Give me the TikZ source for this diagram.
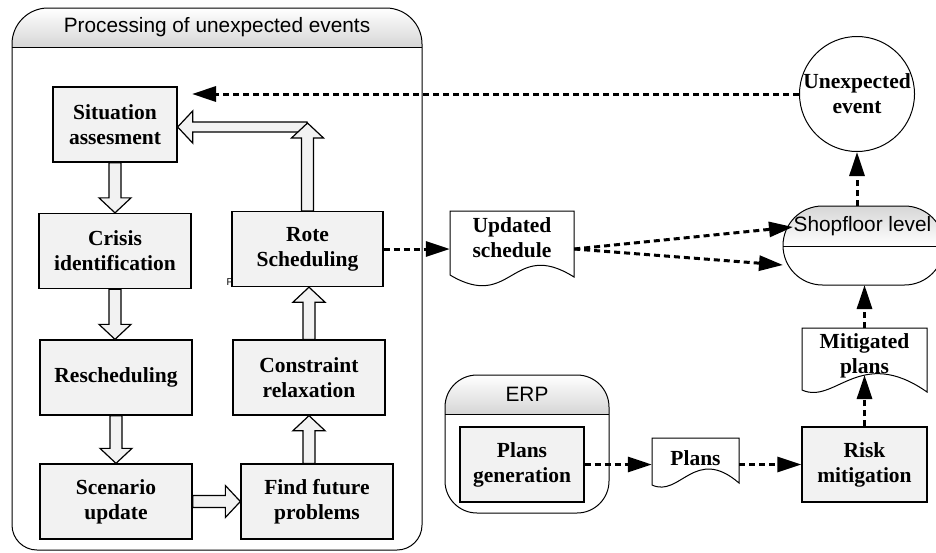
\documentclass[tikz,border=0pt]{standalone}
\usepackage{fontspec}
\setmainfont{Liberation Serif}
\setsansfont{Liberation Sans}
\usetikzlibrary{arrows.meta,calc}
\definecolor{boxgray}{HTML}{F2F2F2}
\definecolor{hdrgray}{HTML}{D6D6D6}
\newcommand{\blkdown}[2]{\draw[blk] ($(#1)+(-6,0)$) -- ($(#1|-#2)+(-6,-15)$) -- ($(#1|-#2)+(-16,-15)$) -- (#1|-#2) -- ($(#1|-#2)+(16,-15)$) -- ($(#1|-#2)+(6,-15)$) -- ($(#1)+(6,0)$) -- cycle;}
\newcommand{\blkup}[2]{\draw[blk] ($(#1)+(-6,0)$) -- ($(#1|-#2)+(-6,15)$) -- ($(#1|-#2)+(-16,15)$) -- (#1|-#2) -- ($(#1|-#2)+(16,15)$) -- ($(#1|-#2)+(6,15)$) -- ($(#1)+(6,0)$) -- cycle;}
\newcommand{\blkright}[2]{\draw[blk] ($(#1)+(0,-6)$) -- ($(#1-|#2)+(-15,-6)$) -- ($(#1-|#2)+(-15,-16)$) -- (#1-|#2) -- ($(#1-|#2)+(-15,16)$) -- ($(#1-|#2)+(-15,6)$) -- ($(#1)+(0,6)$) -- cycle;}
\newcommand{\blkleft}[2]{\draw[blk] ($(#1)+(0,-5)$) -- ($(#1-|#2)+(15,-5)$) -- ($(#1-|#2)+(15,-16)$) -- (#1-|#2) -- ($(#1-|#2)+(15,16)$) -- ($(#1-|#2)+(15,5)$) -- ($(#1)+(0,5)$) -- cycle;}
\begin{document}
\begin{tikzpicture}[x=1pt,y=-1pt,
  proc/.style={draw, line width=1.3pt, fill=boxgray, inner sep=0pt, align=center,
    font=\bfseries\fontsize{21.5}{25}\selectfont, minimum width=152pt, minimum height=75pt},
  lbl/.style={font=\bfseries\fontsize{21.5}{25}\selectfont, align=center, inner sep=0pt},
  sanslbl/.style={font=\sffamily\fontsize{20.8}{25}\selectfont, inner sep=0pt},
  thin/.style={line width=1pt},
  darr/.style={line width=3pt, dash pattern=on 6pt off 4pt, -{Triangle[length=24pt,width=15pt]}},
  blk/.style={draw, line width=1.2pt, fill=boxgray, line join=miter}]
\useasboundingbox (0,0) rectangle (936,552);
\clip (0,0) rectangle (936,552);

% big container
\shade[top color=white, bottom color=hdrgray] (12,47) -- (12,44) arc[start angle=180,end angle=270,radius=36] -- (386,8) arc[start angle=270,end angle=360,radius=36] -- (422,47) -- cycle;
\draw[thin] (12,47) -- (422,47);
\draw[thin] (12,44) arc[start angle=180,end angle=270,radius=36] -- (386,8) arc[start angle=270,end angle=360,radius=36] -- (422,525) arc[start angle=0,end angle=90,radius=25] -- (37,550) arc[start angle=90,end angle=180,radius=25] -- cycle;
\node[sanslbl] (ttl) at (217,27) {Processing of unexpected events};

% ERP container
\shade[top color=white, bottom color=hdrgray] (445,414) -- (445,407) arc[start angle=180,end angle=270,radius=32] -- (577,375) arc[start angle=270,end angle=360,radius=32] -- (609,414) -- cycle;
\draw[thin] (445,414) -- (609,414);
\draw[thin] (445,407) arc[start angle=180,end angle=270,radius=32] -- (577,375) arc[start angle=270,end angle=360,radius=32] -- (609,481) arc[start angle=0,end angle=90,radius=32] -- (477,513) arc[start angle=90,end angle=180,radius=32] -- cycle;
\node[sanslbl] (erp) at (527,394) {ERP};

% Shopfloor level
\shade[top color=hdrgray, bottom color=white] (783,246) -- (783,245.5) arc[start angle=180,end angle=270,radius=39.5] -- (904.5,206) arc[start angle=270,end angle=360,radius=39.5] -- (944,246) -- cycle;
\draw[thin] (783,246) -- (944,246);
\draw[thin] (783,245.5) arc[start angle=180,end angle=270,radius=39.5] -- (904.5,206) arc[start angle=270,end angle=360,radius=39.5] arc[start angle=0,end angle=90,radius=39.5] -- (822.5,285) arc[start angle=90,end angle=180,radius=39.5] -- cycle;
\node[sanslbl] (shop) at (862.5,226) {Shopfloor level};
\coordinate (shoptop) at (857,206);
\coordinate (shopbot) at (864.5,285);
\coordinate (sf1) at (793,227);
\coordinate (sf2) at (783,265);

% process boxes
\node[proc, minimum width=124pt] (sit) at (115,124.5) {Situation\\assesment};
\node[proc] (cri) at (115,251) {Crisis\\identification};
\node[proc] (res) at (116,377.5) {Rescheduling};
\node[proc] (scn) at (116,501.5) {Scenario\\update};
\node[proc] (fut) at (317,501.5) {Find future\\problems};
\node[proc] (con) at (309,377.5) {Constraint\\relaxation};
\node[proc, minimum width=151pt] (rot) at (307.5,249) {Rote\\Scheduling};
\node[proc, minimum width=124pt] (pgen) at (522,464.5) {Plans\\generation};
\node[proc, minimum width=125pt] (risk) at (864.5,464.5) {Risk\\mitigation};
\node[font=\sffamily\fontsize{10}{10}\selectfont, inner sep=0pt] (pmark) at (230,282) {P};

% unexpected event
\node[draw, circle, line width=1pt, minimum size=115pt, inner sep=0pt, lbl] (ue) at (857,94) {Unexpected\\event};

% documents
\draw[thin, fill=white] (450,211) -- (574,211) -- (574,277) .. controls (512,238) and (512,312) .. (450,275) -- cycle;
\node[lbl, minimum width=124pt, minimum height=40pt] (upd) at (512,238) {Updated\\schedule};
\draw[thin, fill=white] (652,438) -- (739,438) -- (739,483) .. controls (695,445) and (680,498) .. (652,485) -- cycle;
\node[lbl, minimum width=87pt, minimum height=30pt] (plans) at (695.5,458) {Plans};
\draw[thin, fill=white] (802,328) -- (927,328) -- (927,392) .. controls (860,345) and (835,405) .. (802,390) -- cycle;
\node[lbl, minimum width=125pt, minimum height=50pt] (mit) at (864.5,356) {Mitigated\\plans};
\coordinate (mittop) at (864.5,328);
\coordinate (mitin) at (864.5,375);

% block arrows
\blkdown{sit.south}{cri.north}
\blkdown{cri.south}{res.north}
\blkdown{res.south}{scn.north}
\blkright{scn.east}{fut.west}
\coordinate (fa) at (con.south |- fut.north);
\blkup{fa}{con.south}
\blkup{con.north}{rot.south}
\coordinate (lstart) at (307,127);
\blkleft{lstart}{sit.east}
\coordinate (rtop) at (306,123);
\blkup{rot.north}{rtop}

% dashed arrows
\coordinate (sitin) at (192,94);
\draw[darr] (ue.west) -- (sitin);
\draw[darr] (rot.east) -- (rot.east -| upd.west);
\coordinate (updout) at (upd.east |- rot.east);
\draw[darr] (updout) -- (sf1);
\draw[darr] (updout) -- (sf2);
\draw[darr] (shoptop) -- (ue.south);
\draw[darr] (mittop) -- (shopbot);
\draw[darr] (risk.north) -- (mitin);
\draw[darr] (pgen.east) -- (pgen.east -| plans.west);
\draw[darr] (plans.east |- risk.west) -- (risk.west);
\end{tikzpicture}
\end{document}
